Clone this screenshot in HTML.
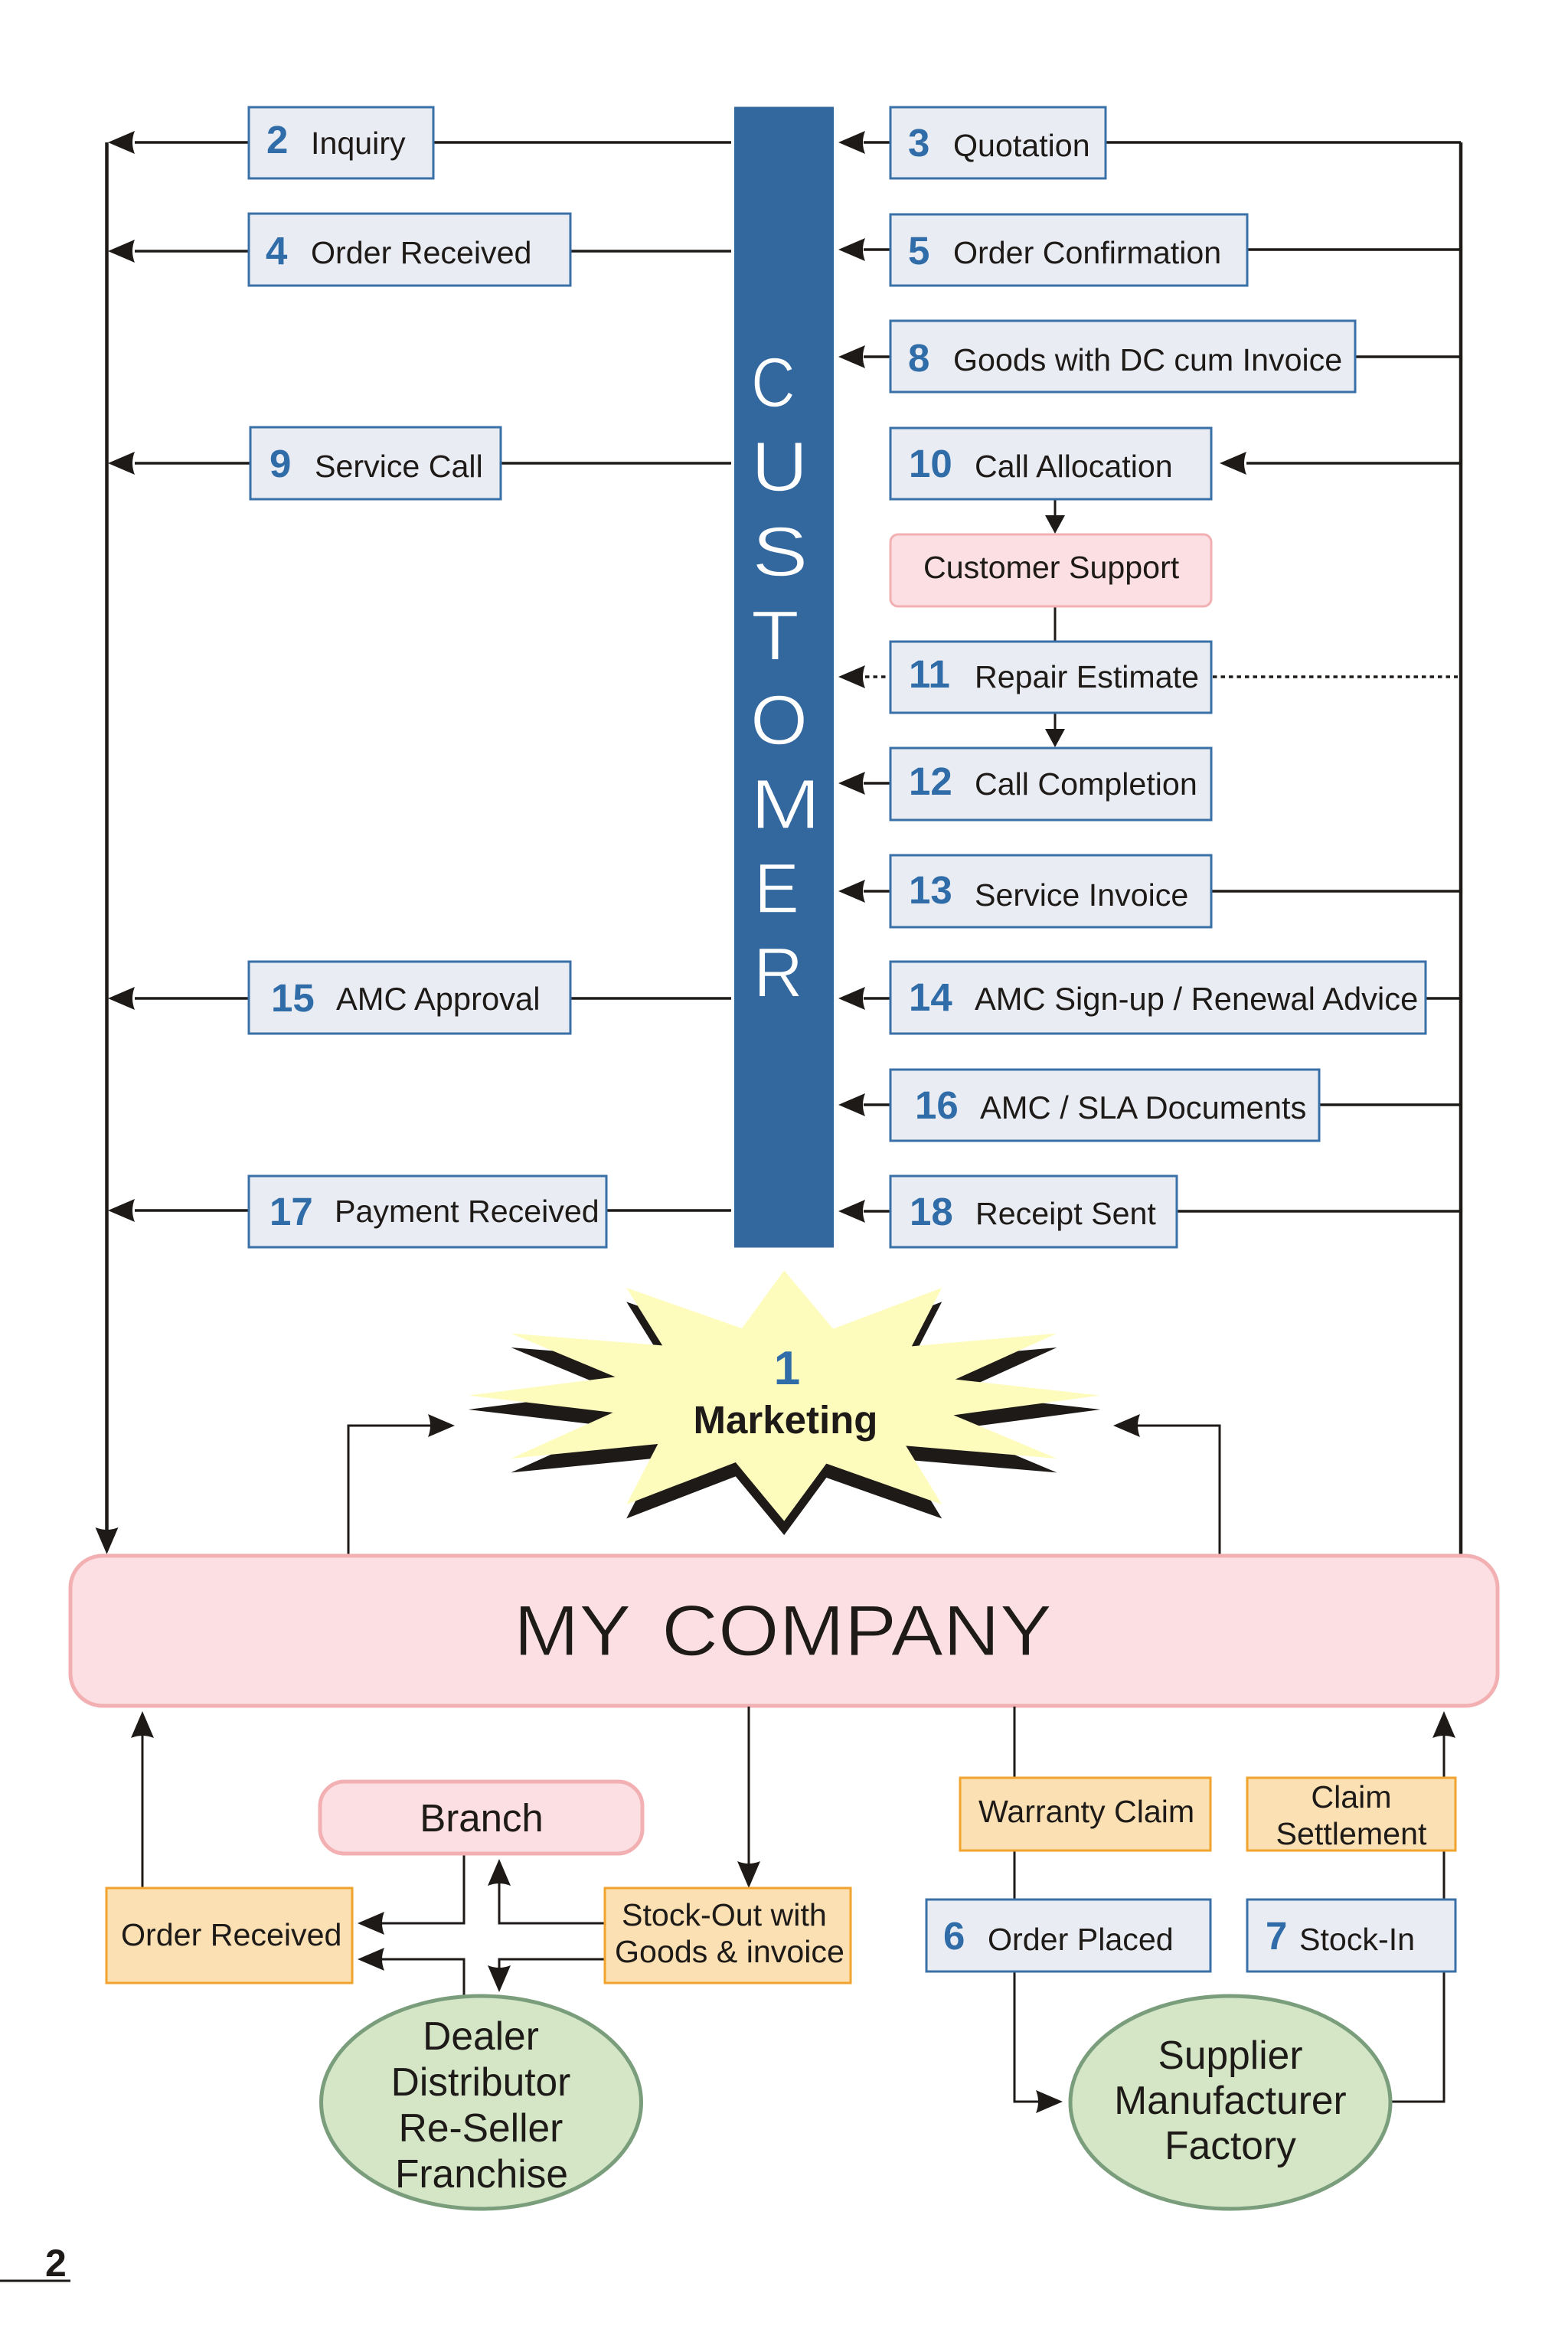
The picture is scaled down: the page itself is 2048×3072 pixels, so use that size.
<!DOCTYPE html>
<html><head><meta charset="utf-8"><title>Diagram</title>
<style>
html,body{margin:0;padding:0;background:#fff;overflow:hidden}
svg{display:block}
text{font-family:"Liberation Sans",sans-serif;fill:#1d1a18;font-size:41.2px}
.n{font-weight:bold;fill:#2f6ca8;font-size:51px}
.b{fill:#e9ecf2;stroke:#3a70a8;stroke-width:3}
.o{fill:#fbe0b3;stroke:#f0a32d;stroke-width:3}
.p{fill:#fbdfe2;stroke:#f3b0b2;stroke-width:5}
.g{fill:#d4e6c6;stroke:#7a9e7c;stroke-width:5}
.l{fill:none;stroke:#1d1a18;stroke-width:3.5}
.t{fill:none;stroke:#1d1a18;stroke-width:3}
.k{fill:none;stroke:#1d1a18;stroke-width:4.5}
.d{fill:none;stroke:#1d1a18;stroke-width:3.5;stroke-dasharray:5.5 5}
.c{text-anchor:middle}
.w{fill:#fff;font-size:92px;stroke:#33689f;stroke-width:1.5}
.e{font-size:51.5px;text-anchor:middle}
.m{font-size:41.7px}
</style></head>
<body>
<svg xmlns="http://www.w3.org/2000/svg" width="2048" height="3072" viewBox="0 0 2048 3072">
<defs>
<path id="a" d="M0 0 L35 -15 Q29 0 35 15Z" fill="#1d1a18"/>
</defs>
<rect width="2048" height="3072" fill="#fff"/>

<!-- main verticals -->
<path class="k" d="M139.500 186V2000"/>
<path class="k" d="M1908 186V2032"/>

<!-- left rows -->
<path class="l" d="M176 186H325M566 186H955"/>
<path class="l" d="M176 328H325M745 328H955"/>
<path class="l" d="M176 605H327M654 605H955"/>
<path class="l" d="M176 1304H325M745 1304H955"/>
<path class="l" d="M176 1581H325M792 1581H955"/>
<use href="#a" x="141" y="186"/>
<use href="#a" x="141" y="328"/>
<use href="#a" x="141" y="605"/>
<use href="#a" x="141" y="1304"/>
<use href="#a" x="141" y="1581"/>
<use href="#a" transform="translate(139.500 2030) rotate(-90)"/>

<!-- right rows -->
<path class="l" d="M1128 186H1162M1444 186H1908"/>
<path class="l" d="M1128 326H1162M1629 326H1908"/>
<path class="l" d="M1128 466H1162M1770 466H1908"/>
<path class="l" d="M1628 605H1908"/>
<path class="d" d="M1130 884H1160M1584 884H1904"/>
<path class="l" d="M1128 1023H1162"/>
<path class="l" d="M1128 1164H1162M1582 1164H1908"/>
<path class="l" d="M1128 1304H1162M1862 1304H1908"/>
<path class="l" d="M1128 1443H1162M1723 1443H1908"/>
<path class="l" d="M1128 1582H1162M1537 1582H1908"/>
<use href="#a" x="1095" y="186"/>
<use href="#a" x="1095" y="326"/>
<use href="#a" x="1095" y="466"/>
<use href="#a" x="1593" y="605"/>
<use href="#a" x="1095" y="884"/>
<use href="#a" x="1095" y="1023"/>
<use href="#a" x="1095" y="1164"/>
<use href="#a" x="1095" y="1304"/>
<use href="#a" x="1095" y="1443"/>
<use href="#a" x="1095" y="1582"/>

<!-- service chain -->
<path class="t" d="M1378 652V675M1378 792V838M1378 931V955"/>
<path d="M1378 697L1365 673H1391Z" fill="#1d1a18"/>
<path d="M1378 976L1365 952H1391Z" fill="#1d1a18"/>

<!-- customer bar -->
<rect x="959" y="139.500" width="130" height="1490" fill="#33689f"/>
<text class="w" transform="translate(981 531) scale(.87 1)">C</text>
<text class="w" transform="translate(981 641) scale(1.12 1)">U</text>
<text class="w" transform="translate(982 752) scale(1.2 1)">S</text>
<text class="w" transform="translate(981 862) scale(1.12 1)">T</text>
<text class="w" transform="translate(980 972) scale(1.05 1)">O</text>
<text class="w" transform="translate(980 1082) scale(1.2 1)">M</text>
<text class="w" transform="translate(985 1192) scale(.96 1)">E</text>
<text class="w" transform="translate(984 1302) scale(.98 1)">R</text>

<!-- left boxes -->
<rect class="b" x="325" y="140" width="241" height="93"/>
<text class="n" x="348" y="200">2</text><text x="406" y="201">Inquiry</text>
<rect class="b" x="325" y="279" width="420" height="94"/>
<text class="n" x="347" y="345">4</text><text x="406" y="344">Order Received</text>
<rect class="b" x="327" y="558" width="327" height="94"/>
<text class="n" x="352" y="623">9</text><text x="411" y="623">Service Call</text>
<rect class="b" x="325" y="1256" width="420" height="94"/>
<text class="n" x="354" y="1321">15</text><text class="m" x="439" y="1319">AMC Approval</text>
<rect class="b" x="325" y="1536" width="467" height="93"/>
<text class="n" x="352" y="1600">17</text><text x="437" y="1596">Payment Received</text>

<!-- right boxes -->
<rect class="b" x="1163" y="140" width="281" height="93"/>
<text class="n" x="1186" y="204">3</text><text x="1245" y="204">Quotation</text>
<rect class="b" x="1163" y="280" width="466" height="93"/>
<text class="n" x="1186" y="345">5</text><text x="1245" y="344">Order Confirmation</text>
<rect class="b" x="1163" y="419" width="607" height="93"/>
<text class="n" x="1186" y="485">8</text><text x="1245" y="484">Goods with DC cum Invoice</text>
<rect class="b" x="1163" y="559" width="419" height="93"/>
<text class="n" x="1187" y="623">10</text><text x="1273" y="623">Call Allocation</text>
<rect x="1163" y="698" width="419" height="94" rx="10" fill="#fbdfe2" stroke="#f3b0b2" stroke-width="3"/>
<text x="1206" y="755">Customer Support</text>
<rect class="b" x="1163" y="838" width="419" height="93"/>
<text class="n" x="1187" y="898">11</text><text x="1273" y="898">Repair Estimate</text>
<rect class="b" x="1163" y="977" width="419" height="94"/>
<text class="n" x="1187" y="1038">12</text><text x="1273" y="1038">Call Completion</text>
<rect class="b" x="1163" y="1117" width="419" height="94"/>
<text class="n" x="1187" y="1180">13</text><text x="1273" y="1183">Service Invoice</text>
<rect class="b" x="1163" y="1256" width="699" height="94"/>
<text class="n" x="1187" y="1320">14</text><text class="m" x="1273" y="1319">AMC Sign-up / Renewal Advice</text>
<rect class="b" x="1163" y="1397" width="560" height="93"/>
<text class="n" x="1195" y="1461">16</text><text class="m" x="1280" y="1461">AMC / SLA Documents</text>
<rect class="b" x="1163" y="1536" width="374" height="93"/>
<text class="n" x="1188" y="1600">18</text><text x="1274" y="1599">Receipt Sent</text>

<!-- star -->
<g transform="translate(560 1620) scale(.58685 .33333)">
<polygon fill="#1d1a18" transform="translate(0 55)" points="791,118 900,347 1142,186 1075,415 1398,365 1172,545 1495,608 1168,685 1398,855 1062,805 1142,1035 885,875 791,1100 683,870 440,1035 510,798 183,855 410,675 88,608 415,535 183,365 520,412 440,186 697,345"/>
<polygon fill="#fefcbd" points="791,118 900,347 1142,186 1075,415 1398,365 1172,545 1495,608 1168,685 1398,855 1062,805 1142,1035 885,875 791,1100 683,870 440,1035 510,798 183,855 410,675 88,608 415,535 183,365 520,412 440,186 697,345"/>
</g>
<text class="n c" x="1028" y="1808" style="font-size:62px">1</text>
<text class="c" x="1026" y="1872" style="font-size:51px;font-weight:bold">Marketing</text>

<!-- marketing arrows -->
<path class="t" d="M455 2030V1862H562"/>
<path class="t" d="M1593 2030V1862H1486"/>
<use href="#a" transform="translate(594 1862) rotate(180)"/>
<use href="#a" x="1454" y="1862"/>

<!-- my company -->
<rect class="p" x="92" y="2032" width="1864" height="196" rx="42"/>
<text x="671" y="2162" style="font-size:94px;word-spacing:12px;stroke:#fbdfe2;stroke-width:1.2" textLength="703" lengthAdjust="spacingAndGlyphs">MY COMPANY</text>

<!-- bottom left -->
<path class="t" d="M186 2266V2466"/>
<use href="#a" transform="translate(186 2235) rotate(90)"/>
<path class="t" d="M978 2229V2436"/>
<use href="#a" transform="translate(978 2466) rotate(-90)"/>
<path class="t" d="M606 2421V2512H499"/>
<path class="t" d="M606 2606V2559H499"/>
<use href="#a" x="467" y="2512"/>
<use href="#a" x="467" y="2559"/>
<path class="t" d="M790 2512H652V2460"/>
<path class="t" d="M790 2559H652V2570"/>
<use href="#a" transform="translate(652 2428) rotate(90)"/>
<use href="#a" transform="translate(652 2602) rotate(-90)"/>

<rect class="p" x="418" y="2327" width="421" height="94" rx="32"/>
<text class="e" x="629" y="2392" style="font-size:51px">Branch</text>
<rect class="o" x="139" y="2466" width="321" height="124"/>
<text x="158" y="2541">Order Received</text>
<rect class="o" x="790" y="2466" width="321" height="124"/>
<text x="812" y="2515">Stock-Out with</text>
<text x="803" y="2563">Goods &amp; invoice</text>
<ellipse class="g" cx="628.500" cy="2746" rx="209" ry="139"/>
<text class="e" x="628" y="2677">Dealer</text>
<text class="e" x="628" y="2737">Distributor</text>
<text class="e" x="628" y="2797">Re-Seller</text>
<text class="e" x="629" y="2857">Franchise</text>

<!-- bottom right -->
<path class="t" d="M1325 2229V2322M1325 2417V2481M1325 2575V2745H1356"/>
<use href="#a" transform="translate(1388 2745) rotate(180)"/>
<path class="t" d="M1886 2267V2322M1886 2417V2481M1886 2575V2745H1818"/>
<use href="#a" transform="translate(1886 2235) rotate(90)"/>
<rect class="o" x="1254" y="2322" width="327" height="95"/>
<text x="1278" y="2380">Warranty Claim</text>
<rect class="o" x="1629" y="2322" width="272" height="95"/>
<text class="c" x="1765" y="2361">Claim</text>
<text class="c" x="1765" y="2409">Settlement</text>
<rect class="b" x="1210" y="2481" width="371" height="94"/>
<text class="n" x="1232" y="2546">6</text><text x="1290" y="2547">Order Placed</text>
<rect class="b" x="1629" y="2481" width="272" height="94"/>
<text class="n" x="1653" y="2546">7</text><text x="1697" y="2547">Stock-In</text>
<ellipse class="g" cx="1607" cy="2746" rx="209" ry="139"/>
<text class="e" x="1607" y="2702">Supplier</text>
<text class="e" x="1607" y="2761">Manufacturer</text>
<text class="e" x="1607" y="2820">Factory</text>

<!-- page number -->
<text x="59" y="2973" style="font-size:50px;font-weight:bold">2</text>
<path d="M0 2979H92" stroke="#1d1a18" stroke-width="3"/>
</svg>
</body></html>
